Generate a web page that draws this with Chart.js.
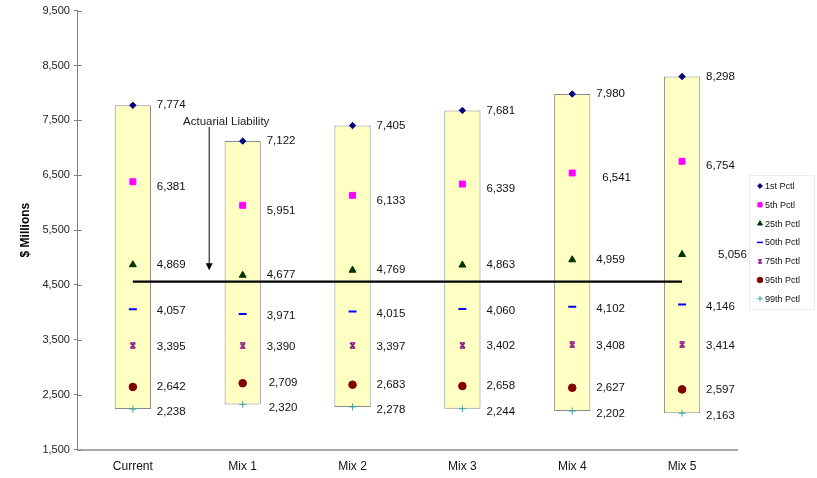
<!DOCTYPE html>
<html>
<head>
<meta charset="utf-8">
<script src="https://cdn.jsdelivr.net/npm/chart.js@4.4.1/dist/chart.umd.min.js"></script>
<style>
  html, body { margin: 0; padding: 0; background: #fff; }
  #wrap { width: 817px; height: 478px; }
</style>
</head>
<body>
<div id="wrap"><canvas id="pctlChart" width="817" height="478"></canvas></div>
<script>
const mixes = ['Current', 'Mix 1', 'Mix 2', 'Mix 3', 'Mix 4', 'Mix 5'];

const pctl1  = [7774, 7122, 7405, 7681, 7980, 8298];
const pctl5  = [6381, 5951, 6133, 6339, 6541, 6754];
const pctl25 = [4869, 4677, 4769, 4863, 4959, 5056];
const pctl50 = [4057, 3971, 4015, 4060, 4102, 4146];
const pctl75 = [3395, 3390, 3397, 3402, 3408, 3414];
const pctl95 = [2642, 2709, 2683, 2658, 2627, 2597];
const pctl99 = [2238, 2320, 2278, 2244, 2202, 2163];

const liability = 4560;
const yTicks = [1500, 2500, 3500, 4500, 5500, 6500, 7500, 8500, 9500];

const FONT = '"Liberation Sans", Arial, sans-serif';

// excel-style asterisk marker: an x with caps top and bottom
function starMarker(color, size) {
  const c = document.createElement('canvas');
  c.width = size; c.height = size;
  const g = c.getContext('2d');
  g.strokeStyle = color;
  g.lineWidth = 1.3;
  g.beginPath();
  g.moveTo(1, 1); g.lineTo(size - 1, size - 1);
  g.moveTo(size - 1, 1); g.lineTo(1, size - 1);
  g.moveTo(1, 0.8); g.lineTo(size - 1, 0.8);
  g.moveTo(1, size - 0.8); g.lineTo(size - 1, size - 0.8);
  g.stroke();
  return c;
}

function pointSet(label, data, style, color, radius, legendRadius, extra) {
  return Object.assign({
    type: 'line',
    label: label,
    data: data,
    showLine: false,
    pointStyle: style,
    pointRadius: radius,
    pointHoverRadius: radius,
    pointBackgroundColor: color,
    pointBorderColor: color,
    backgroundColor: color,
    borderColor: color,
    pointBorderWidth: 1,
    legendRadius: legendRadius,
    order: 1
  }, extra || {});
}

const datasets = [
  pointSet('1st Pctl', pctl1, 'rectRot', '#000080', 3.2, 2.4),
  pointSet('5th Pctl', pctl5, 'rect', '#FF00FF', 4.2, 3),
  pointSet('25th Pctl', pctl25, 'triangle', '#003300', 4, 2.8),
  pointSet('50th Pctl', pctl50, 'line', '#0000FF', 4, 3, { pointBorderWidth: 2, borderWidth: 2 }),
  pointSet('75th Pctl', pctl75, starMarker('#800080', 7), '#800080', 3.5, 2.5),
  pointSet('95th Pctl', pctl95, 'circle', '#800000', 3.8, 2.8),
  pointSet('99th Pctl', pctl99, 'cross', '#33AAAA', 3.5, 2.8),
  {
    type: 'line',
    label: 'Actuarial Liability',
    data: mixes.map(() => liability),
    borderColor: '#000',
    borderWidth: 2.2,
    pointRadius: 0,
    order: 2
  },
  {
    type: 'bar',
    label: 'range',
    data: mixes.map((m, i) => [pctl99[i], pctl1[i]]),
    backgroundColor: '#FFFFC4',
    borderColor: '#8a8a8a',
    borderWidth: 1,
    borderSkipped: false,
    barPercentage: 0.33,
    categoryPercentage: 1,
    order: 10
  }
];

// small nudges so labels sit like the original
const labelNudge = [0, 5, 0, 2, 1, 0, 3];
const labelShift = { '1:4': 6, '2:5': 12, '5:1': 2, '6:1': 2 };

const valueLabels = {
  id: 'valueLabels',
  afterDatasetsDraw(chart) {
    const ctx = chart.ctx;
    ctx.save();
    ctx.font = '11.5px ' + FONT;
    ctx.fillStyle = '#111';
    ctx.textAlign = 'left';
    ctx.textBaseline = 'middle';
    for (let d = 0; d < 7; d++) {
      const meta = chart.getDatasetMeta(d);
      const vals = chart.data.datasets[d].data;
      meta.data.forEach((pt, i) => {
        const dx = labelShift[d + ':' + i] || 0;
        ctx.fillText(vals[i].toLocaleString('en-US'), pt.x + 24 + dx, pt.y + labelNudge[d]);
      });
    }
    ctx.restore();
  }
};

const liabilityArrow = {
  id: 'liabilityArrow',
  afterDatasetsDraw(chart) {
    const ctx = chart.ctx;
    const xs = chart.scales.x, ys = chart.scales.y;
    const x = xs.getPixelForValue(0) + 0.695 * (xs.getPixelForValue(1) - xs.getPixelForValue(0));
    const yTop = ys.getPixelForValue(7380);
    const yTip = ys.getPixelForValue(4770);
    ctx.save();
    ctx.strokeStyle = '#000';
    ctx.fillStyle = '#000';
    ctx.lineWidth = 1;
    ctx.beginPath();
    ctx.moveTo(x, yTop);
    ctx.lineTo(x, yTip - 6);
    ctx.stroke();
    ctx.beginPath();
    ctx.moveTo(x - 3.5, yTip - 7);
    ctx.lineTo(x + 3.5, yTip - 7);
    ctx.lineTo(x, yTip);
    ctx.closePath();
    ctx.fill();
    ctx.font = '11.5px ' + FONT;
    ctx.textAlign = 'center';
    ctx.textBaseline = 'middle';
    ctx.fillStyle = '#222';
    ctx.fillText('Actuarial Liability', x + 17, ys.getPixelForValue(7480));
    ctx.restore();
  }
};

// y tick marks cross the axis line, so draw the inner half too
const innerTicks = {
  id: 'innerTicks',
  afterDraw(chart) {
    const ctx = chart.ctx;
    const ys = chart.scales.y;
    const x0 = chart.chartArea.left;
    ctx.save();
    ctx.strokeStyle = '#808080';
    ctx.lineWidth = 1;
    yTicks.forEach(v => {
      const y = Math.round(ys.getPixelForValue(v)) + 0.5;
      ctx.beginPath();
      ctx.moveTo(x0, y);
      ctx.lineTo(x0 + 4, y);
      ctx.stroke();
    });
    ctx.restore();
  }
};

// percentile legend in a faint box on the right
const pctlLegend = {
  id: 'pctlLegend',
  afterDraw(chart) {
    const ctx = chart.ctx;
    const mx = 760, tx = 765, y0 = 186, step = 18.8;
    ctx.save();
    ctx.strokeStyle = '#ececec';
    ctx.lineWidth = 1;
    ctx.strokeRect(749.5, 175.5, 65, 134);
    ctx.font = '9px ' + FONT;
    ctx.textAlign = 'left';
    ctx.textBaseline = 'middle';
    for (let d = 0; d < 7; d++) {
      const ds = chart.data.datasets[d];
      const y = y0 + d * step;
      ctx.fillStyle = ds.pointBackgroundColor;
      ctx.strokeStyle = ds.pointBorderColor;
      ctx.lineWidth = d === 3 ? 1.6 : 1;
      if (ds.pointStyle instanceof HTMLCanvasElement) {
        ctx.drawImage(ds.pointStyle, mx - 2.5, y - 2.5, 5, 5);
      } else {
        Chart.helpers.drawPoint(ctx, { pointStyle: ds.pointStyle, radius: ds.legendRadius, rotation: 0, borderWidth: ctx.lineWidth }, mx, y);
      }
      ctx.fillStyle = '#111';
      ctx.fillText(ds.label, tx, y + 0.5);
    }
    ctx.restore();
  }
};

new Chart(document.getElementById('pctlChart'), {
  data: { labels: mixes, datasets: datasets },
  options: {
    responsive: false,
    animation: false,
    layout: { padding: { top: 8, right: 80, left: 18, bottom: -6 } },
    plugins: {
      tooltip: { enabled: false },
      legend: { display: false }
    },
    scales: {
      x: {
        grid: { display: false, drawTicks: false },
        border: { display: true, color: '#a8a8a8', width: 2 },
        ticks: {
          color: '#111',
          padding: 10,
          font: { family: FONT, size: 12 }
        }
      },
      y: {
        min: 1500,
        max: 9500,
        afterBuildTicks: axis => { axis.ticks = yTicks.map(v => ({ value: v })); },
        grid: { drawOnChartArea: false, tickLength: 4, color: '#808080' },
        border: { display: true, color: '#808080', width: 1 },
        title: {
          display: true,
          text: '$ Millions',
          color: '#000',
          padding: { top: 0, bottom: 6 },
          font: { family: FONT, size: 12, weight: 'bold' }
        },
        ticks: {
          color: '#222',
          padding: 4,
          font: { family: FONT, size: 11 },
          callback: v => v.toLocaleString('en-US')
        }
      }
    }
  },
  plugins: [valueLabels, liabilityArrow, innerTicks, pctlLegend]
});
</script>
</body>
</html>
